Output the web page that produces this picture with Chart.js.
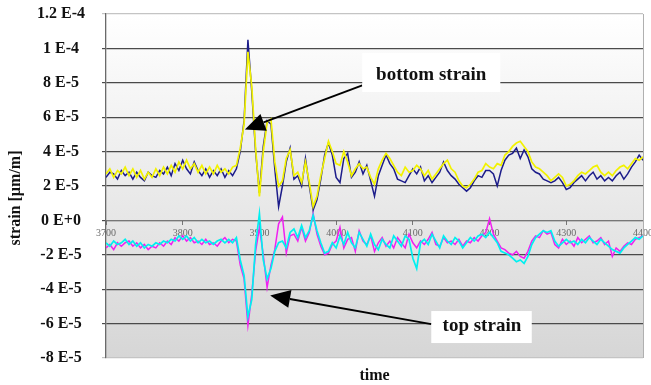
<!DOCTYPE html>
<html><head><meta charset="utf-8">
<script src="https://cdn.jsdelivr.net/npm/chart.js@4"></script>
<style>html,body{margin:0;padding:0;background:#fff}</style>
</head><body>
<canvas id="c" width="651" height="385"></canvas>
<script>
// time axis (samples)
const times = [
3700,3705,3710,3715,3720,3725,3730,3735,3740,3745,3750,3755,3760,3765,3770,3775,3780,3785,3790,3795,
3800,3805,3810,3815,3820,3825,3830,3835,3840,3845,3850,3855,3860,3865,3870,3875,3880,3885,3890,3895,
3900,3905,3910,3915,3920,3925,3930,3935,3940,3945,3950,3955,3960,3965,3970,3975,3980,3985,3990,3995,
4000,4005,4010,4015,4020,4025,4030,4035,4040,4045,4050,4055,4060,4065,4070,4075,4080,4085,4090,4095,
4100,4105,4110,4115,4120,4125,4130,4135,4140,4145,4150,4155,4160,4165,4170,4175,4180,4185,4190,4195,
4200,4205,4210,4215,4220,4225,4230,4235,4240,4245,4250,4255,4260,4265,4270,4275,4280,4285,4290,4295,
4300,4305,4310,4315,4320,4325,4330,4335,4340,4345,4350,4355,4360,4365,4370,4375,4380,4385,4390,4395,
4400];

// strain values in units of 1 E-5
const bottomStrainA = [
2.7,3.0,2.5,2.9,2.7,3.1,2.6,3.0,2.5,2.9,2.4,2.8,2.5,3.0,2.6,3.1,2.7,3.2,2.8,3.4,
3.0,3.5,3.0,3.3,2.8,3.2,2.7,3.1,2.7,3.2,2.8,3.0,2.7,3.1,3.2,4.2,5.6,9.8,7.8,4.2,
1.4,4.0,5.7,5.9,3.4,2.0,2.3,3.6,4.1,2.6,2.8,2.2,3.4,2.2,0.8,1.4,2.6,3.6,4.6,4.0,
3.3,3.2,4.0,3.4,2.6,3.0,3.3,3.0,3.1,2.5,2.1,3.0,3.5,3.9,3.6,3.2,2.8,2.6,3.1,2.8,
2.9,3.2,3.0,2.6,2.9,2.4,2.7,3.0,3.3,3.5,3.0,2.8,2.3,2.0,1.9,2.1,2.4,2.8,2.9,3.3,
3.1,3.0,3.3,3.2,3.8,4.0,4.3,4.5,4.6,4.3,4.0,3.4,3.1,3.0,2.8,2.6,2.3,2.5,2.7,2.5,
2.0,2.1,2.3,2.6,2.8,2.7,2.9,3.1,3.2,2.8,2.6,2.8,2.6,2.9,3.1,3.2,3.0,3.3,3.6,3.5,
3.7];
const bottomStrainB = [
2.5,2.8,2.7,2.4,2.9,2.6,2.8,2.4,2.8,2.5,2.3,2.8,2.6,2.5,2.9,2.7,3.1,2.6,3.3,2.9,
3.5,3.0,2.7,3.4,2.9,2.6,3.0,2.5,2.9,2.6,3.0,2.5,2.9,2.6,3.0,4.0,5.8,10.5,7.5,4.0,
1.6,4.3,5.8,5.6,3.0,0.8,2.0,3.4,4.2,2.4,2.6,2.0,3.6,2.0,0.6,1.2,2.4,3.8,4.5,3.8,
2.5,2.2,3.6,3.9,2.5,2.8,3.4,2.7,3.2,2.3,1.4,2.6,3.2,3.8,3.3,3.0,2.4,2.3,2.2,2.6,
3.0,2.7,3.1,2.3,2.6,2.2,2.5,2.8,3.4,2.9,2.6,2.4,2.1,1.9,1.7,1.9,2.3,2.6,2.5,2.9,
2.9,2.7,2.0,2.9,3.5,3.8,3.9,4.2,3.6,4.1,3.7,3.0,2.8,2.7,2.4,2.3,2.2,2.3,2.5,2.2,
1.8,1.9,2.2,2.4,2.6,2.3,2.6,2.8,2.4,2.6,2.3,2.5,2.3,2.6,2.8,2.4,2.7,3.1,3.4,3.8,
3.5];
const topStrainA = [
-1.3,-1.5,-1.2,-1.4,-1.3,-1.1,-1.4,-1.2,-1.5,-1.3,-1.6,-1.4,-1.5,-1.3,-1.4,-1.2,-1.3,-1.1,-1.2,-0.9,
-1.1,-0.9,-1.2,-1.0,-1.3,-1.1,-1.3,-1.2,-1.4,-1.2,-1.1,-1.3,-1.1,-1.3,-1.0,-2.3,-3.2,-5.6,-4.6,-1.4,
0.4,-2.3,-3.4,-2.8,-1.8,-1.3,-1.2,-1.6,-0.7,-0.5,-1.0,-0.3,-1.0,-0.6,0.3,-0.6,-1.3,-1.9,-1.8,-1.3,
-1.6,-0.9,-1.4,-0.7,-1.3,-1.6,-0.7,-1.1,-1.5,-0.8,-1.4,-1.7,-1.1,-1.4,-1.6,-0.9,-1.2,-1.5,-0.9,-1.1,
-2.2,-2.8,-1.3,-1.1,-1.4,-0.8,-1.2,-1.6,-0.9,-1.2,-1.4,-1.0,-1.2,-1.6,-1.3,-1.0,-1.2,-0.9,-0.8,-1.0,
-0.7,-1.0,-1.3,-1.8,-1.9,-2.0,-2.2,-2.4,-2.3,-2.5,-2.1,-1.4,-1.0,-0.8,-0.6,-0.7,-0.6,-1.2,-1.5,-1.3,
-1.1,-1.3,-1.2,-1.4,-1.1,-1.3,-1.0,-1.2,-1.4,-1.1,-1.3,-1.5,-1.7,-1.8,-1.9,-1.6,-1.4,-1.2,-1.0,-1.1,
-0.9];
const topStrainB = [
-1.6,-1.4,-1.7,-1.3,-1.5,-1.3,-1.2,-1.5,-1.3,-1.6,-1.4,-1.7,-1.5,-1.6,-1.3,-1.5,-1.2,-1.4,-1.0,-1.2,
-0.9,-1.2,-1.0,-1.3,-1.2,-1.4,-1.1,-1.4,-1.3,-1.5,-1.2,-1.0,-1.3,-1.1,-1.2,-2.6,-3.4,-6.1,-4.3,-1.8,
-0.4,-2.0,-3.9,-2.6,-1.7,-0.2,0.2,-1.9,-0.9,-0.8,-1.2,-0.4,-1.2,-0.7,0.4,-0.8,-1.5,-2.0,-1.9,-1.4,
-1.2,-0.4,-1.6,-1.1,-1.0,-1.8,-0.6,-1.2,-1.4,-0.9,-1.8,-1.3,-1.0,-1.5,-1.2,-1.6,-1.0,-1.3,-1.6,-0.8,
-1.3,-1.6,-1.2,-1.4,-1.1,-0.7,-1.4,-1.5,-1.0,-1.3,-1.2,-1.4,-1.1,-1.5,-1.2,-1.3,-1.0,-1.2,-0.9,-0.7,
0.1,-0.8,-1.2,-1.6,-1.7,-1.9,-2.0,-1.8,-2.1,-2.2,-1.8,-1.2,-0.9,-1.0,-0.6,-0.8,-0.7,-1.4,-1.6,-1.1,
-1.4,-1.2,-1.5,-1.0,-1.3,-1.1,-0.9,-1.3,-1.2,-1.0,-1.4,-1.2,-2.1,-1.6,-1.8,-1.5,-1.3,-1.4,-1.1,-1.0,
-0.9];

const yTickValues = [-8,-6,-4,-2,0,2,4,6,8,10,12];
const yTickLabels = ['-8 E-5','-6 E-5','-4 E-5','-2 E-5','0 E+0','2 E-5','4 E-5','6 E-5','8 E-5','1 E-4','1.2 E-4'];
const xTickValues = [3700,3800,3900,4000,4100,4200,4300,4400];

// callouts (anchored in data coordinates)
const callouts = [
  {text:'bottom strain', box:[4034,9.73,4214,7.47], label:[4124,8.42], tail:[4034,7.85], tip:[3881,5.29]},
  {text:'top strain', box:[4124,-5.27,4255,-7.13], label:[4190,-6.15], tail:[4124,-6.03], tip:[3914,-4.36]}
];

const pts = arr => arr.map((v,i) => ({x: times[i], y: v}));
const serif = "'Liberation Serif', 'Times New Roman', serif";

const bgPlugin = {
  id: 'bg',
  beforeDraw(chart) {
    const {ctx, chartArea: a} = chart;
    const g = ctx.createLinearGradient(0, a.top, 0, a.bottom);
    g.addColorStop(0, '#ffffff');
    g.addColorStop(1, '#d6d6d6');
    ctx.save();
    ctx.fillStyle = g;
    ctx.fillRect(a.left, a.top, a.right - a.left, a.bottom - a.top);
    ctx.restore();
  },
  afterDraw(chart) {
    const {ctx, chartArea: a} = chart;
    ctx.save();
    ctx.strokeStyle = '#b0b0b0';
    ctx.lineWidth = 1;
    ctx.beginPath();
    ctx.moveTo(a.right + 0.5, a.top);
    ctx.lineTo(a.right + 0.5, a.bottom);
    ctx.stroke();
    ctx.restore();
  }
};

const calloutPlugin = {
  id: 'callouts',
  afterDatasetsDraw(chart) {
    const {ctx, scales: {x, y}} = chart;
    ctx.save();
    callouts.forEach(c => {
      const tx = x.getPixelForValue(c.tail[0]), ty = y.getPixelForValue(c.tail[1]);
      const px = x.getPixelForValue(c.tip[0]), py = y.getPixelForValue(c.tip[1]);
      const ang = Math.atan2(py - ty, px - tx);
      const L = 20, W = 9;
      const bx = px - L * Math.cos(ang), by = py - L * Math.sin(ang);
      ctx.strokeStyle = '#000';
      ctx.lineWidth = 2;
      ctx.beginPath();
      ctx.moveTo(tx, ty);
      ctx.lineTo(bx, by);
      ctx.stroke();
      ctx.fillStyle = '#000';
      ctx.beginPath();
      ctx.moveTo(px, py);
      ctx.lineTo(bx + W * Math.sin(ang), by - W * Math.cos(ang));
      ctx.lineTo(bx - W * Math.sin(ang), by + W * Math.cos(ang));
      ctx.closePath();
      ctx.fill();
      const x0 = x.getPixelForValue(c.box[0]), y0 = y.getPixelForValue(c.box[1]);
      const x1 = x.getPixelForValue(c.box[2]), y1 = y.getPixelForValue(c.box[3]);
      ctx.fillStyle = '#ffffff';
      ctx.fillRect(x0, y0, x1 - x0, y1 - y0);
      ctx.fillStyle = '#111';
      ctx.font = "bold 19px " + serif;
      ctx.textAlign = 'center';
      ctx.textBaseline = 'middle';
      ctx.fillText(c.text, x.getPixelForValue(c.label[0]), y.getPixelForValue(c.label[1]));
    });
    ctx.restore();
  }
};

new Chart(document.getElementById('c'), {
  type: 'line',
  data: {
    datasets: [
      {label: 'bottom strain A', data: pts(bottomStrainA), borderColor: '#f2f200', borderWidth: 1.7},
      {label: 'bottom strain B', data: pts(bottomStrainB), borderColor: '#1c1c8a', borderWidth: 1.5},
      {label: 'top strain A', data: pts(topStrainA), borderColor: '#00f0f0', borderWidth: 1.7},
      {label: 'top strain B', data: pts(topStrainB), borderColor: '#f020f0', borderWidth: 1.5}
    ]
  },
  options: {
    responsive: false,
    animation: false,
    devicePixelRatio: 1,
    elements: {point: {radius: 0}, line: {tension: 0}},
    layout: {padding: {top: 14, right: 8, left: 0, bottom: 0}},
    plugins: {legend: {display: false}, tooltip: {enabled: false}},
    scales: {
      x: {
        type: 'linear',
        min: 3700, max: 4400,
        position: {y: 0},
        afterBuildTicks: s => { s.ticks = xTickValues.map(v => ({value: v})); },
        afterFit: s => { s.paddingLeft = 0; s.paddingRight = 0; },
        grid: {drawOnChartArea: false, drawTicks: true, tickLength: 4, color: '#777'},
        border: {display: true, color: '#777'},
        ticks: {
          autoSkip: false, maxRotation: 0, padding: 3,
          color: '#6a6a6a',
          font: {family: serif, size: 10},
          callback: v => String(v)
        }
      },
      xTitle: {
        type: 'linear', axis: 'x',
        min: 3700, max: 4400,
        position: 'bottom',
        afterFit: s => { s.height = 27; s.paddingLeft = 0; s.paddingRight = 0; },
        grid: {display: false},
        border: {display: false},
        ticks: {display: false},
        title: {display: true, text: 'time', color: '#111', padding: {top: 0, bottom: 0},
                font: {family: serif, size: 16, weight: 'bold'}}
      },
      y: {
        type: 'linear',
        min: -8, max: 12,
        afterBuildTicks: s => { s.ticks = yTickValues.map(v => ({value: v})); },
        afterFit: s => { s.width = 106; s.paddingTop = 0; s.paddingBottom = 0; },
        grid: {
          color: ctx => (ctx.tick && (ctx.tick.value === 12 || ctx.tick.value === -8)) ? '#c4c4c4' : '#4a4a4a',
          lineWidth: 1.2, tickLength: 4, drawTicks: true
        },
        border: {display: true, color: '#6a6a6a', width: 1.3},
        ticks: {
          crossAlign: 'center', padding: 17,
          color: '#111',
          font: {family: serif, size: 16, weight: 'bold'},
          callback: v => yTickLabels[yTickValues.indexOf(Math.round(v))]
        },
        title: {display: true, text: 'strain [µm/m]\u00a0\u00a0\u00a0\u00a0\u00a0\u00a0', color: '#111',
                padding: {top: 6, bottom: 0},
                font: {family: serif, size: 16, weight: 'bold'}}
      }
    }
  },
  plugins: [bgPlugin, calloutPlugin]
});
</script>
</body></html>
